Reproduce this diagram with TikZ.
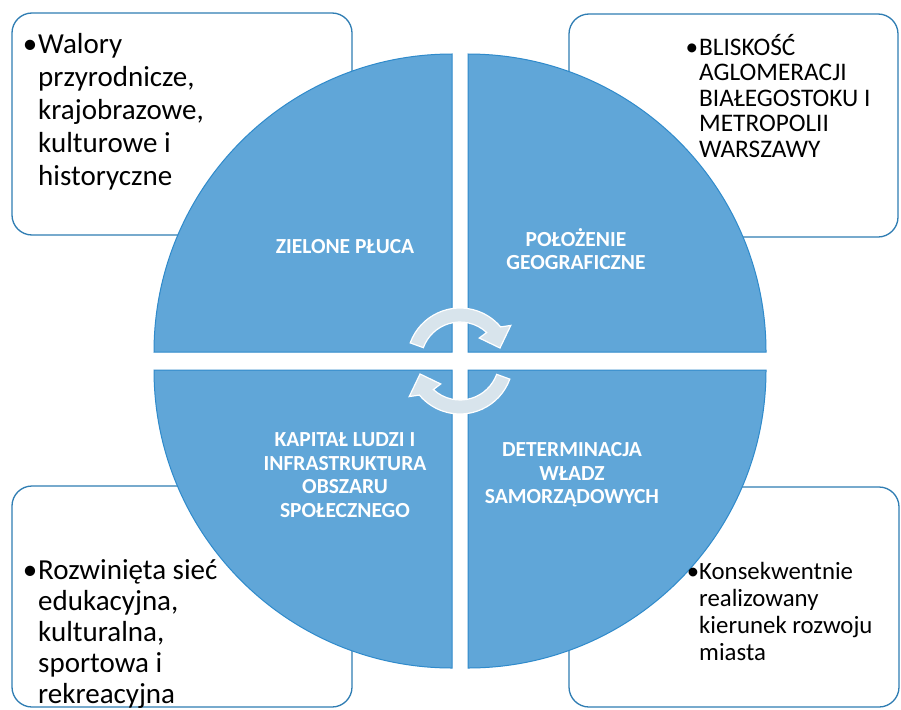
\documentclass[tikz,border=0pt]{standalone}
\usepackage{fontspec}
\setmainfont{Carlito}
\definecolor{quadfill}{HTML}{60A6D8}
\definecolor{quadedge}{HTML}{2F8ACB}
\definecolor{boxedge}{HTML}{2F7DB3}
\definecolor{arrowfill}{HTML}{D8E4EC}
\begin{document}
\begin{tikzpicture}[x=1pt,y=-1pt,
  infobox/.style={draw=boxedge, line width=1.3pt, fill=white, rounded corners=20pt},
  quad/.style={fill=quadfill, draw=quadedge, line width=1pt},
  quadlabel/.style={text=white, font=\bfseries\fontsize{21.5}{23.5}\selectfont, align=center, inner sep=0pt},
  boxtext/.style={align=left, anchor=base west, inner sep=0pt, text=black},
  cyclearrow/.style={fill=arrowfill, draw=white, line width=1.2pt}]
\useasboundingbox[fill=white] (0,0) rectangle (901,709);
% info boxes
\draw[infobox] (12,13) rectangle (352,235);
\draw[infobox] (569,14) rectangle (898,237);
\draw[infobox] (12,486) rectangle (352,707);
\draw[infobox] (569,487) rectangle (899,707);
% quadrants
\path[quad] (452,352) -- (154,352) arc[start angle=180, end angle=270, radius=298] -- cycle;
\path[quad] (468,352) -- (468,54) arc[start angle=270, end angle=360, radius=298] -- cycle;
\path[quad] (468,370) -- (766,370) arc[start angle=0, end angle=90, radius=298] -- cycle;
\path[quad] (452,370) -- (452,668) arc[start angle=90, end angle=180, radius=298] -- cycle;
% cycle arrows
\begin{scope}[shift={(460,361)}, yscale=-1]
\path[cyclearrow] (160:53) arc[start angle=160, end angle=40, radius=53] -- (35:62) -- (18:42) -- (50:30) -- (47:39) arc[start angle=47, end angle=160, radius=39] -- cycle;
\path[cyclearrow] (340:53) arc[start angle=340, end angle=220, radius=53] -- (215:62) -- (198:42) -- (230:30) -- (227:39) arc[start angle=227, end angle=340, radius=39] -- cycle;
\end{scope}
% quadrant labels
\node[quadlabel] (zielone) at (345,247) {ZIELONE PŁUCA};
\node[quadlabel] (polozenie) at (576,249) {POŁOŻENIE\\GEOGRAFICZNE};
\node[quadlabel] (kapital) at (345,475) {KAPITAŁ LUDZI I\\INFRASTRUKTURA\\OBSZARU\\SPOŁECZNEGO};
\node[quadlabel] (determinacja) at (572,475) {DETERMINACJA\\WŁADZ\\SAMORZĄDOWYCH};
% box texts (anchored at the baseline of the last line)
\node[boxtext, font=\fontsize{29}{33}\selectfont] (walory) at (38,185)
  {\llap{•\hspace{1pt}}Walory\\przyrodnicze,\\krajobrazowe,\\kulturowe i\\historyczne};
\node[boxtext, font=\fontsize{25.3}{25.5}\selectfont] (bliskosc) at (699,157)
  {\llap{•\hspace{1pt}}BLISKOŚĆ\\AGLOMERACJI\\BIAŁEGOSTOKU I\\METROPOLII\\WARSZAWY};
\node[boxtext, font=\fontsize{29}{31}\selectfont] (rozwinieta) at (38,703)
  {\llap{•\hspace{1pt}}Rozwinięta sieć\\edukacyjna,\\kulturalna,\\sportowa i\\rekreacyjna};
\node[boxtext, font=\fontsize{24.8}{26.7}\selectfont] (konsekwentnie) at (699,660)
  {\llap{•}Konsekwentnie\\realizowany\\kierunek rozwoju\\miasta};
\end{tikzpicture}
\end{document}
